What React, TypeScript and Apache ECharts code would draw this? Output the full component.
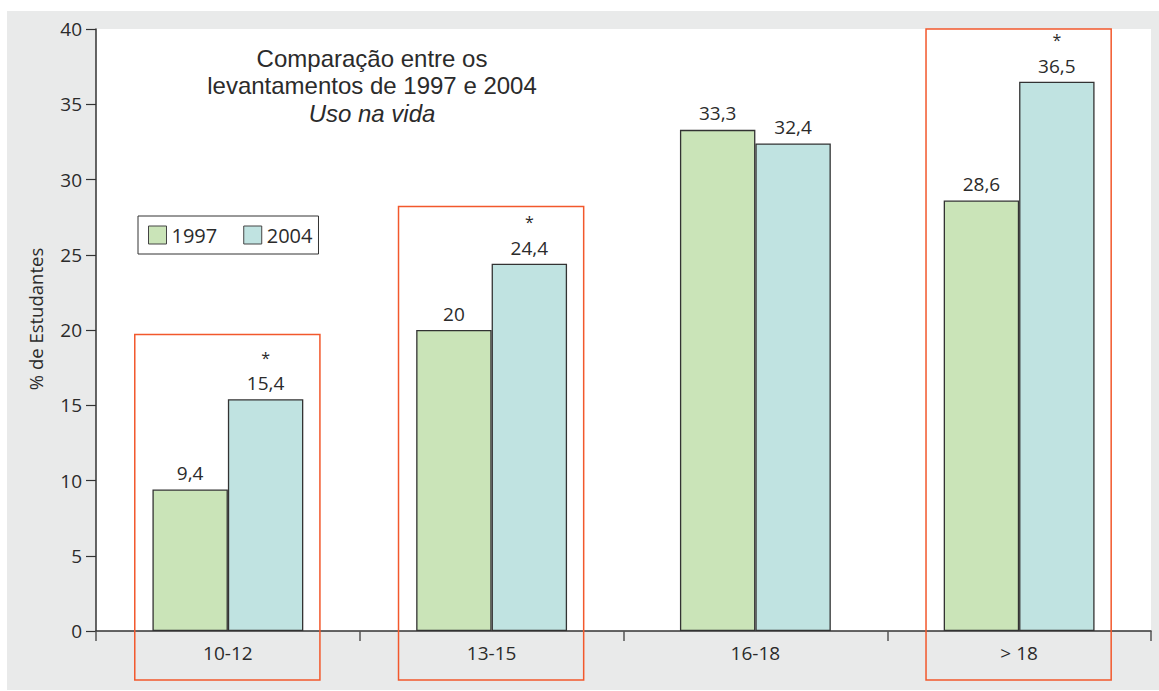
import React, { useEffect, useRef } from "react";
import * as echarts from "echarts";

const categories = ["10-12", "13-15", "16-18", "> 18"];
const values1997 = [9.4, 20, 33.3, 28.6];
const values2004 = [15.4, 24.4, 32.4, 36.5];
const significant2004 = [true, true, false, true];
// top of highlight box (in % units), null = no box
const highlightTop = [19.7, 28.2, null, 40];
const seriesNames = ["1997", "2004"];
const yTicks = { min: 0, max: 40, interval: 5 };
const yAxisName = "% de Estudantes";
const titleLines = ["Comparação entre os", "levantamentos de 1997 e 2004"];
const subTitle = "Uso na vida";

const FONT = "'Open Sans', 'Noto Sans', sans-serif";
const TITLE_FONT = "'Liberation Sans', Arial, sans-serif";
const TXT = "#2b2b2b";

const fmt = (v: number) => String(v).replace(".", ",");

export default function App() {
  const ref = useRef<HTMLDivElement>(null);
  useEffect(() => {
    if (!ref.current) return;
    const chart = echarts.init(ref.current, null, { renderer: "svg" });
    const labelRich = {
      s: { fontSize: 16, color: TXT, fontFamily: FONT, lineHeight: 27 },
      v: { fontSize: 19, color: TXT, fontFamily: FONT, lineHeight: 24 },
    };
    chart.setOption({
      animation: false,
      backgroundColor: "transparent",
      textStyle: { fontFamily: FONT },
      grid: {
        left: 89,
        top: 18,
        right: 8,
        bottom: 59,
        show: true,
        backgroundColor: "#ffffff",
        borderWidth: 0,
      },
      legend: {
        left: 131,
        top: 205,
        orient: "horizontal",
        data: seriesNames,
        icon: "rect",
        itemWidth: 18,
        itemHeight: 18,
        itemGap: 26,
        padding: [9, 6, 9, 10],
        borderColor: "#333",
        borderWidth: 1,
        backgroundColor: "#fff",
        itemStyle: { borderColor: "#444", borderWidth: 1 },
        textStyle: { fontSize: 20, color: TXT, fontFamily: FONT, padding: [0, 0, 0, 0] },
        selectedMode: false,
      },
      xAxis: {
        type: "category",
        data: categories,
        axisLine: { lineStyle: { color: "#333", width: 1.5 } },
        axisTick: { show: true, length: 10, alignWithLabel: false, lineStyle: { color: "#555", width: 1.5 } },
        axisLabel: { fontSize: 19, color: TXT, fontFamily: FONT, margin: 12 },
      },
      yAxis: {
        type: "value",
        min: yTicks.min,
        max: yTicks.max,
        interval: yTicks.interval,
        axisLine: { show: true, lineStyle: { color: "#333", width: 1.5 } },
        axisTick: { show: true, length: 10, lineStyle: { color: "#333", width: 1.2 } },
        splitLine: { show: false },
        axisLabel: { fontSize: 19, color: TXT, fontFamily: FONT, margin: 14 },
      },
      series: [
        {
          name: seriesNames[0],
          type: "bar",
          data: values1997,
          barWidth: "28.6%",
          barGap: "0%",
          itemStyle: { color: "#cae4b8", borderColor: "#333", borderWidth: 1.3 },
          label: {
            show: true,
            position: "top",
            distance: 7,
            fontSize: 19,
            color: TXT,
            fontFamily: FONT,
            formatter: (p: any) => fmt(p.value),
          },
        },
        {
          name: seriesNames[1],
          type: "bar",
          data: values2004,
          barWidth: "28.6%",
          barGap: "0%",
          itemStyle: { color: "#c0e3e1", borderColor: "#333", borderWidth: 1.3 },
          label: {
            show: true,
            position: "top",
            distance: 4,
            fontSize: 19,
            color: TXT,
            fontFamily: FONT,
            rich: labelRich,
            formatter: (p: any) =>
              significant2004[p.dataIndex]
                ? `{s|*}\n{v|${fmt(p.value)}}`
                : `{v|${fmt(p.value)}}`,
          },
        },
      ],
    });

    // title, axis name + highlight boxes
    const p0 = chart.convertToPixel({ xAxisIndex: 0, yAxisIndex: 0 }, [0, 0]) as number[];
    const p1 = chart.convertToPixel({ xAxisIndex: 0, yAxisIndex: 0 }, [1, 0]) as number[];
    const catW = p1[0] - p0[0];
    const boxes: any[] = [];
    highlightTop.forEach((top, i) => {
      if (top == null) return;
      const c = chart.convertToPixel({ xAxisIndex: 0, yAxisIndex: 0 }, [i, top]) as number[];
      const left = c[0] - catW * 0.353;
      const right = c[0] + catW * 0.349;
      const bottom = p0[1] + 49;
      boxes.push({
        type: "rect",
        z: 100,
        shape: { x: left, y: c[1], width: right - left, height: bottom - c[1] },
        style: { fill: "none", stroke: "#f2582c", lineWidth: 1.5 },
        silent: true,
      });
    });
    const titleStyle = { fontSize: 24, fill: TXT, fontFamily: TITLE_FONT, align: "center", verticalAlign: "middle" };
    chart.setOption({
      graphic: [
        ...titleLines.map((t, i) => ({
          type: "text",
          x: 365,
          y: 47 + i * 27.5,
          z: 100,
          style: { ...titleStyle, text: t },
        })),
        {
          type: "text",
          x: 365,
          y: 47 + 2 * 27.5,
          z: 100,
          style: { ...titleStyle, text: subTitle, fontStyle: "italic" },
        },
        {
          type: "text",
          x: 28,
          y: 308,
          rotation: Math.PI / 2,
          style: {
            text: yAxisName,
            align: "center",
            verticalAlign: "middle",
            fontSize: 18.5,
            fill: TXT,
            fontFamily: FONT,
          },
        },
        ...boxes,
      ],
    });
    return () => chart.dispose();
  }, []);
  return (
    <div style={{ position: "fixed", left: 0, top: 0, width: 1159, height: 691, background: "#fff" }}>
      <div style={{ position: "absolute", left: 7, top: 11, width: 1152, height: 679, background: "#e9eaea" }}>
        <div ref={ref} style={{ width: 1152, height: 679 }} />
      </div>
    </div>
  );
}
